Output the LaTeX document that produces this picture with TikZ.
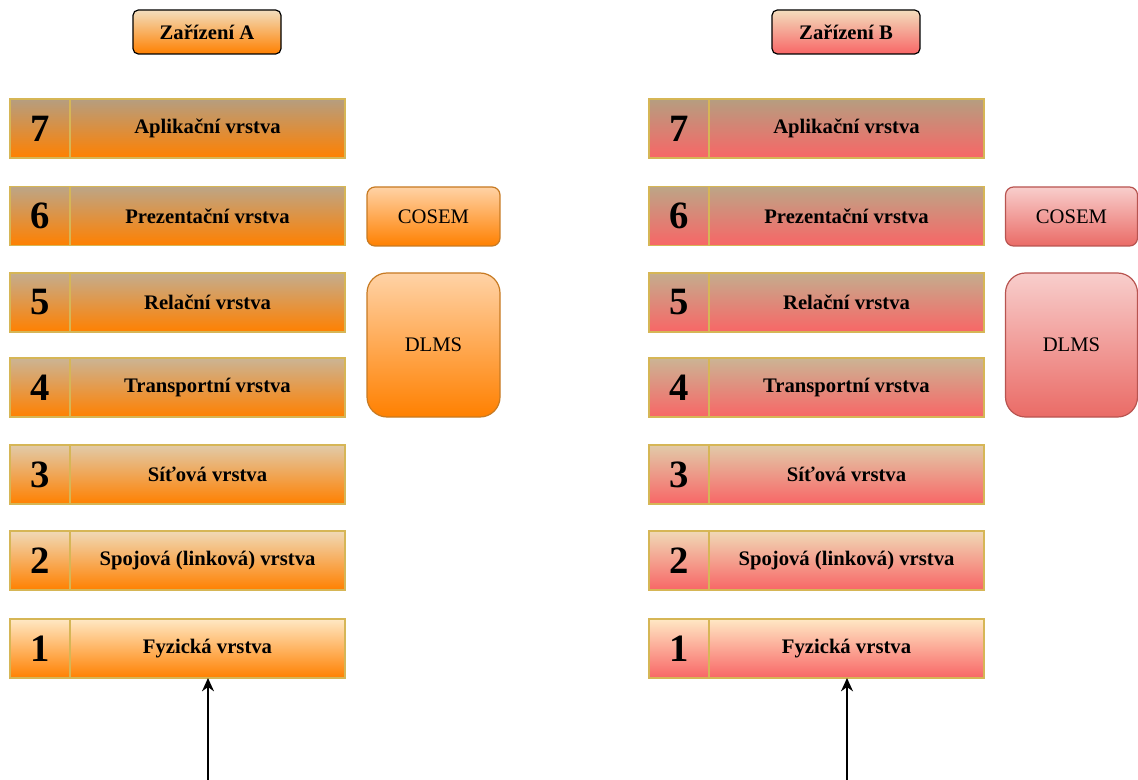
\documentclass[tikz,border=0pt]{standalone}
\usepackage{fontspec}
\setmainfont{Liberation Serif}
\usetikzlibrary{arrows.meta}

\definecolor{laybrd}{HTML}{D6B656}
\definecolor{orgbot}{HTML}{FF8000}
\definecolor{redbot}{HTML}{F86666}
\definecolor{grtop}{HTML}{B59E80}
\definecolor{crtop}{HTML}{FFE8C4}
\definecolor{orgbrd}{HTML}{C77A22}
\definecolor{redbrd}{HTML}{B85450}
\definecolor{pktop}{HTML}{F8CECC}
\definecolor{pkbot}{HTML}{EA6B66}

\begin{document}
\begin{tikzpicture}[x=0.75pt, y=-0.75pt,
  every node/.style={inner sep=0pt, outer sep=0pt, align=center},
  numA/.style={draw=laybrd, line width=1pt, top color=#1, bottom color=orgbot, minimum width=45pt, minimum height=44.25pt, font=\fontsize{29}{30}\selectfont\bfseries},
  layA/.style={draw=laybrd, line width=1pt, top color=#1, bottom color=orgbot, minimum width=206.25pt, minimum height=44.25pt, font=\fontsize{15.5}{18}\selectfont\bfseries},
  numB/.style={numA=#1, bottom color=redbot},
  layB/.style={layA=#1, bottom color=redbot},
  devbox/.style={draw=black, line width=0.9pt, rounded corners=4pt, minimum width=111pt, minimum height=33pt, font=\fontsize{15.5}{18}\selectfont\bfseries},
  protA/.style={draw=orgbrd, line width=0.9pt, top color=orange!35!white, bottom color=orgbot, minimum width=99.75pt, font=\fontsize{15.5}{18}\selectfont},
  protB/.style={draw=redbrd, line width=0.9pt, top color=pktop, bottom color=pkbot, minimum width=99pt, font=\fontsize{15.5}{18}\selectfont}]
  \useasboundingbox (0,0) rectangle (1138,780);

  % devices
  \node[devbox, top color=crtop!90!gray, bottom color=orgbot] (devA) at (207,32) {Zařízení A};
  \node[devbox, top color=crtop!90!gray, bottom color=redbot] (devB) at (846,32) {Zařízení B};

  % layers of device A
  \node[numA=grtop] (n7A) at (40,128.5) {7};
  \node[layA=grtop] (l7A) at (207.5,128.5) {Aplikační vrstva};
  \node[numA=grtop!90!crtop] (n6A) at (40,216) {6};
  \node[layA=grtop!90!crtop] (l6A) at (207.5,216) {Prezentační vrstva};
  \node[numA=grtop!80!crtop] (n5A) at (40,302.5) {5};
  \node[layA=grtop!80!crtop] (l5A) at (207.5,302.5) {Relační vrstva};
  \node[numA=grtop!70!crtop] (n4A) at (40,387.5) {4};
  \node[layA=grtop!70!crtop] (l4A) at (207.5,387.5) {Transportní vrstva};
  \node[numA=grtop!40!crtop] (n3A) at (40,474.5) {3};
  \node[layA=grtop!40!crtop] (l3A) at (207.5,474.5) {Síťová vrstva};
  \node[numA=grtop!20!crtop] (n2A) at (40,560.5) {2};
  \node[layA=grtop!20!crtop] (l2A) at (207.5,560.5) {Spojová (linková) vrstva};
  \node[numA=crtop] (n1A) at (40,648.5) {1};
  \node[layA=crtop] (l1A) at (207.5,648.5) {Fyzická vrstva};

  % layers of device B
  \node[numB=grtop] (n7B) at (679,128.5) {7};
  \node[layB=grtop] (l7B) at (846.5,128.5) {Aplikační vrstva};
  \node[numB=grtop!90!crtop] (n6B) at (679,216) {6};
  \node[layB=grtop!90!crtop] (l6B) at (846.5,216) {Prezentační vrstva};
  \node[numB=grtop!80!crtop] (n5B) at (679,302.5) {5};
  \node[layB=grtop!80!crtop] (l5B) at (846.5,302.5) {Relační vrstva};
  \node[numB=grtop!70!crtop] (n4B) at (679,387.5) {4};
  \node[layB=grtop!70!crtop] (l4B) at (846.5,387.5) {Transportní vrstva};
  \node[numB=grtop!40!crtop] (n3B) at (679,474.5) {3};
  \node[layB=grtop!40!crtop] (l3B) at (846.5,474.5) {Síťová vrstva};
  \node[numB=grtop!20!crtop] (n2B) at (679,560.5) {2};
  \node[layB=grtop!20!crtop] (l2B) at (846.5,560.5) {Spojová (linková) vrstva};
  \node[numB=crtop] (n1B) at (679,648.5) {1};
  \node[layB=crtop] (l1B) at (846.5,648.5) {Fyzická vrstva};

  % protocols
  \node[protA, rounded corners=6pt, minimum height=44.25pt] (cosemA) at (433.5,216.5) {COSEM};
  \node[protA, rounded corners=15pt, minimum height=108pt] (dlmsA) at (433.5,345) {DLMS};
  \node[protB, rounded corners=6pt, minimum height=44.25pt] (cosemB) at (1071.5,216.5) {COSEM};
  \node[protB, rounded corners=15pt, minimum height=108pt] (dlmsB) at (1071.5,345) {DLMS};

  % inputs
  \coordinate (inA) at (208,780);
  \coordinate (inB) at (847,780);
  \draw[line width=1.1pt, -{Stealth[length=10pt, width=9pt]}] (inA) -- (l1A.south -| inA);
  \draw[line width=1.1pt, -{Stealth[length=10pt, width=9pt]}] (inB) -- (l1B.south -| inB);
\end{tikzpicture}
\end{document}
